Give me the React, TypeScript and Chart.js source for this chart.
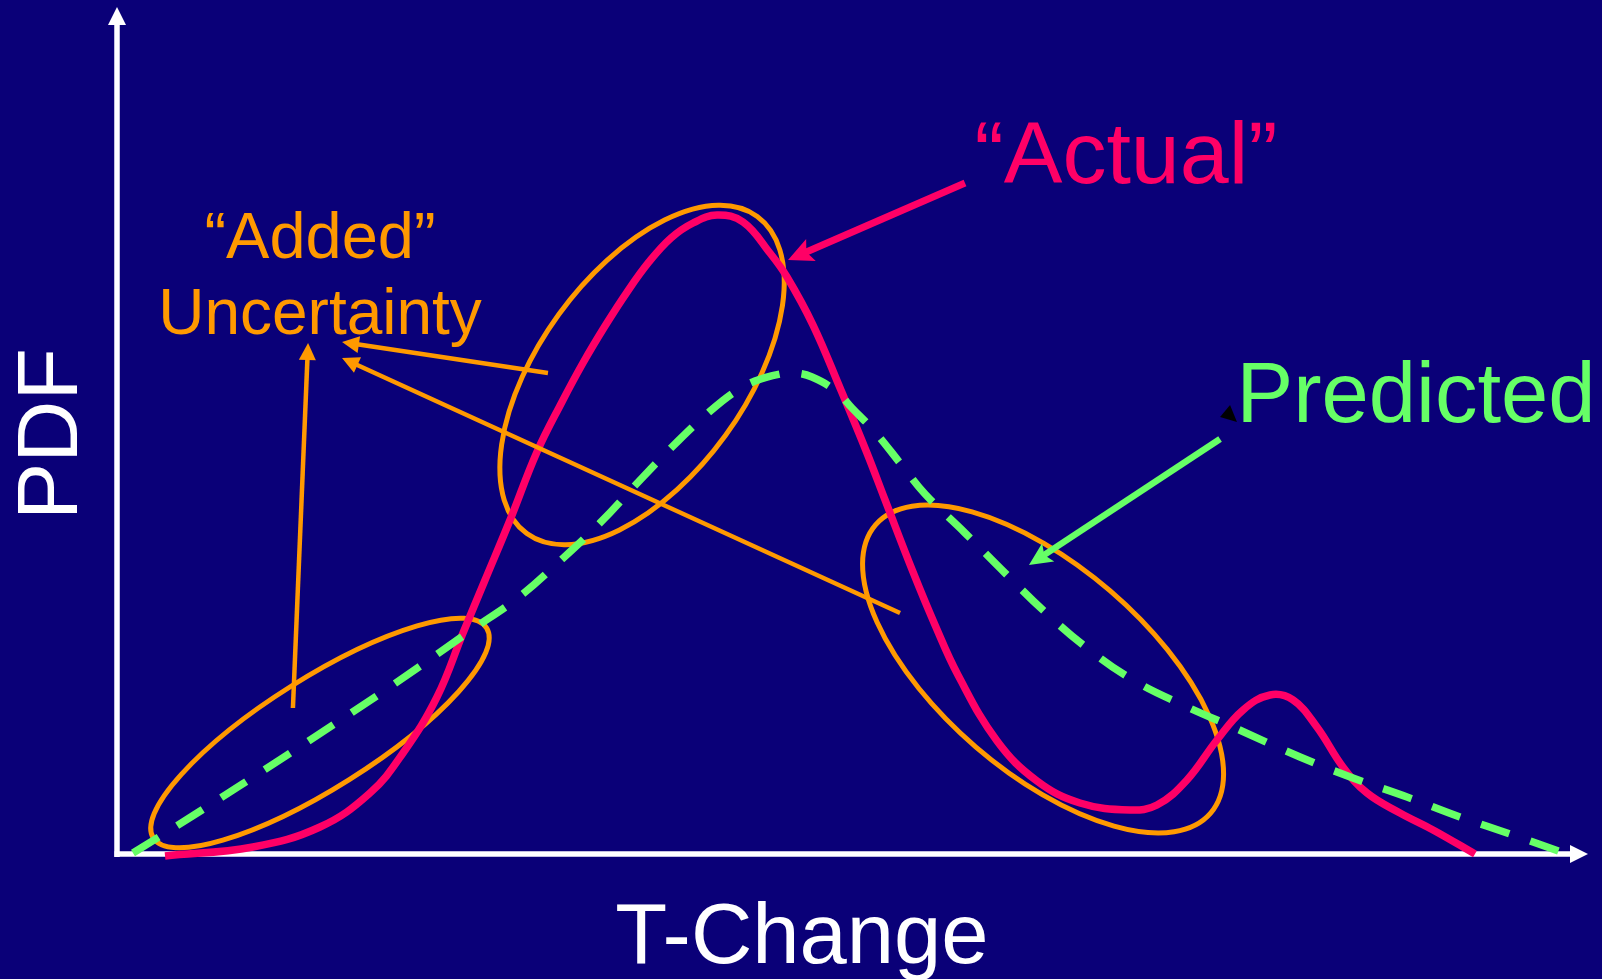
import React, { useEffect, useRef } from "react";
import { Chart, registerables } from "chart.js";

Chart.register(...registerables);

// ---- Data (T-Change on x, PDF on y, arbitrary units 0..100) ----
const actualT = [3.2, 9.18, 13.74, 17.14, 19.39, 21.7, 23.47, 24.97, 26.67, 28.5, 30.2, 31.63, 33.13, 34.63, 36.12, 37.62, 39.12, 40.75, 42.52, 44.35, 45.51, 47.28, 49.12, 50.95, 52.18, 54.08, 55.58, 57.14, 59.8, 62.52, 65.44, 68.84, 70.68, 72.72, 74.76, 76.53, 78.37, 79.93, 81.56, 83.33, 84.97, 87.21, 89.46, 92.31];
const actualPDF = [-0.35, 0.71, 3.07, 7.09, 11.82, 18.44, 26.0, 32.27, 39.36, 47.4, 53.31, 57.92, 62.29, 66.31, 69.86, 72.7, 74.47, 75.41, 74.59, 70.92, 68.09, 62.41, 54.96, 47.28, 41.73, 33.22, 26.95, 21.04, 13.24, 8.51, 5.91, 5.08, 5.67, 8.63, 13.36, 16.9, 18.68, 18.09, 14.89, 10.17, 7.09, 4.73, 2.72, -0.12];

const predictedT = [1.02, 5.17, 11.5, 17.89, 24.15, 27.28, 30.07, 32.79, 35.65, 38.1, 40.14, 41.84, 43.33, 45.03, 46.05, 47.21, 48.84, 49.93, 51.5, 53.2, 54.9, 57.62, 60.34, 63.06, 65.92, 69.05, 72.45, 75.99, 80.41, 84.01, 87.69, 91.29, 94.9, 98.78];
const predictedPDF = [0, 4.49, 11.58, 18.91, 26.48, 30.26, 34.52, 39.01, 44.33, 48.7, 52.01, 54.37, 55.79, 56.62, 56.74, 56.26, 54.61, 52.6, 49.76, 46.1, 42.43, 37.83, 33.1, 28.49, 24.23, 20.45, 17.49, 14.78, 11.35, 8.87, 6.62, 4.26, 2.13, -0.24];

// "Added uncertainty" regions: centres in data units
const regionT = [13.74, 35.65, 62.93];
const regionPDF = [14.18, 56.5, 21.75];

// Text labels
const xTitle = "T-Change";
const yTitle = "PDF";
const actualLabel = "\u201CActual\u201D";
const predictedLabel = "Predicted";
const addedLabel = ["\u201CAdded\u201D", "Uncertainty"];

// ---- Styling / annotation geometry ----
const NAVY = "#0A0078";
const PINK = "#FF0066";
const GREEN = "#66FF66";
const ORANGE = "#FF9900";
const WHITE = "#FFFFFF";
const FONT = "'Liberation Sans', Arial, Helvetica, sans-serif";

// ellipse shapes (pixels, rotation in degrees, canvas convention)
const regionShapes = [
  { a: 197, b: 55, rot: -32.2 },
  { a: 196, b: 103, rot: -54 },
  { a: 221, b: 103, rot: 40.7 },
];

// arrows in data units: [fromT, fromPDF, toT, toPDF]
const orangeArrows = [
  [11.9, 17.14, 12.93, 60.28],
  [29.25, 56.74, 15.24, 60.4],
  [53.2, 28.37, 15.24, 58.51],
];
const actualArrow = [57.62, 79.2, 45.58, 70.09];
const predictedArrow = [74.97, 48.94, 61.97, 34.04];
const blackMark = [
  [75.65, 52.96],
  [74.97, 51.54],
  [76.12, 50.95],
];

function drawArrow(
  ctx: CanvasRenderingContext2D,
  x1: number, y1: number, x2: number, y2: number,
  color: string, lw: number, headLen: number, headHalf: number, notch = 1
) {
  const dx = x2 - x1, dy = y2 - y1;
  const L = Math.hypot(dx, dy);
  const ux = dx / L, uy = dy / L;
  const bx = x2 - ux * headLen, by = y2 - uy * headLen;
  ctx.save();
  ctx.strokeStyle = color;
  ctx.lineWidth = lw;
  ctx.lineCap = "butt";
  ctx.beginPath();
  ctx.moveTo(x1, y1);
  ctx.lineTo(bx + ux * headLen * 0.3, by + uy * headLen * 0.3);
  ctx.stroke();
  ctx.fillStyle = color;
  ctx.beginPath();
  ctx.moveTo(x2, y2);
  ctx.lineTo(bx - uy * headHalf, by + ux * headHalf);
  const nx = x2 - ux * headLen * notch, ny = y2 - uy * headLen * notch;
  ctx.lineTo(nx, ny);
  ctx.lineTo(bx + uy * headHalf, by - ux * headHalf);
  ctx.closePath();
  ctx.fill();
  ctx.restore();
}

const backgroundPlugin = {
  id: "navyBackground",
  beforeDraw(chart: any) {
    const ctx = chart.ctx;
    ctx.save();
    ctx.fillStyle = NAVY;
    ctx.fillRect(0, 0, chart.width, chart.height);
    ctx.restore();
  },
};

const axesPlugin = {
  id: "arrowAxes",
  beforeDatasetsDraw(chart: any) {
    const ctx = chart.ctx;
    const { left, bottom, top, right } = chart.chartArea;
    const ax = left - 1;
    const ay = bottom + 1;
    ctx.save();
    ctx.strokeStyle = WHITE;
    ctx.fillStyle = WHITE;
    ctx.lineWidth = 5.5;
    ctx.lineCap = "butt";
    // y axis
    ctx.beginPath();
    ctx.moveTo(ax, ay + 3);
    ctx.lineTo(ax, top + 18);
    ctx.stroke();
    ctx.beginPath();
    ctx.moveTo(ax, top);
    ctx.lineTo(ax - 9, top + 18);
    ctx.lineTo(ax + 9, top + 18);
    ctx.closePath();
    ctx.fill();
    // x axis
    ctx.beginPath();
    ctx.moveTo(ax - 2.5, ay);
    ctx.lineTo(right - 17, ay);
    ctx.stroke();
    ctx.beginPath();
    ctx.moveTo(right, ay);
    ctx.lineTo(right - 18, ay - 9);
    ctx.lineTo(right - 18, ay + 9);
    ctx.closePath();
    ctx.fill();
    ctx.restore();

    // uncertainty ellipses
    const xs = chart.scales.x, ys = chart.scales.y;
    ctx.save();
    ctx.strokeStyle = ORANGE;
    ctx.lineWidth = 5;
    regionT.forEach((t, i) => {
      const cx = xs.getPixelForValue(t);
      const cy = ys.getPixelForValue(regionPDF[i]);
      const s = regionShapes[i];
      ctx.beginPath();
      ctx.ellipse(cx, cy, s.a, s.b, (s.rot * Math.PI) / 180, 0, Math.PI * 2);
      ctx.stroke();
    });
    ctx.restore();
  },
};

const annotationPlugin = {
  id: "annotations",
  afterDatasetsDraw(chart: any) {
    const ctx = chart.ctx;
    const xs = chart.scales.x, ys = chart.scales.y;
    const P = (t: number, p: number) => [xs.getPixelForValue(t), ys.getPixelForValue(p)];

    orangeArrows.forEach((a) => {
      const [x1, y1] = P(a[0], a[1]);
      const [x2, y2] = P(a[2], a[3]);
      drawArrow(ctx, x1, y1, x2, y2, ORANGE, 4.5, 17, 8.5);
    });
    {
      const [x1, y1] = P(actualArrow[0], actualArrow[1]);
      const [x2, y2] = P(actualArrow[2], actualArrow[3]);
      drawArrow(ctx, x1, y1, x2, y2, PINK, 7, 25, 12, 0.8);
    }
    {
      const [x1, y1] = P(predictedArrow[0], predictedArrow[1]);
      const [x2, y2] = P(predictedArrow[2], predictedArrow[3]);
      drawArrow(ctx, x1, y1, x2, y2, GREEN, 6.5, 23, 11, 0.8);
    }
    ctx.save();
    ctx.fillStyle = "#000000";
    ctx.beginPath();
    blackMark.forEach((m, i) => {
      const [x, y] = P(m[0], m[1]);
      if (i === 0) ctx.moveTo(x, y);
      else ctx.lineTo(x, y);
    });
    ctx.closePath();
    ctx.fill();
    ctx.restore();

    // texts
    ctx.save();
    ctx.textBaseline = "alphabetic";
    ctx.textAlign = "center";
    ctx.fillStyle = PINK;
    ctx.font = `88px ${FONT}`;
    ctx.fillText(actualLabel, 1126, 183);
    ctx.fillStyle = GREEN;
    ctx.font = `85px ${FONT}`;
    ctx.fillText(predictedLabel, 1416, 422);
    ctx.fillStyle = ORANGE;
    ctx.font = `65px ${FONT}`;
    ctx.fillText(addedLabel[0], 320, 258);
    ctx.font = `64px ${FONT}`;
    ctx.fillText(addedLabel[1], 320, 334);
    ctx.fillStyle = WHITE;
    ctx.font = `85px ${FONT}`;
    ctx.fillText(xTitle, 802, 963);
    ctx.translate(77, 434);
    ctx.rotate(-Math.PI / 2);
    ctx.font = `86px ${FONT}`;
    ctx.fillText(yTitle, 0, 0);
    ctx.restore();
  },
};

export default function App() {
  const canvasRef = useRef<HTMLCanvasElement | null>(null);

  useEffect(() => {
    const canvas = canvasRef.current;
    if (!canvas) return;
    const chart = new Chart(canvas, {
      type: "line",
      data: {
        datasets: [
          {
            label: "Predicted",
            data: predictedT.map((t, i) => ({ x: t, y: predictedPDF[i] })),
            borderColor: GREEN,
            borderWidth: 7.5,
            borderDash: [30, 22],
            borderCapStyle: "butt",
            pointRadius: 0,
            fill: false,
            tension: 0.4,
            clip: false,
            order: 0,
          },
          {
            label: "Actual",
            data: actualT.map((t, i) => ({ x: t, y: actualPDF[i] })),
            borderColor: PINK,
            borderWidth: 7.5,
            borderCapStyle: "butt",
            pointRadius: 0,
            fill: false,
            tension: 0.4,
            clip: false,
            order: 1,
          },
        ],
      },
      options: {
        responsive: false,
        animation: false,
        devicePixelRatio: 1,
        layout: { padding: { left: 118, right: 14, top: 7, bottom: 126 } },
        scales: {
          x: { type: "linear", min: 0, max: 100, display: false },
          y: { type: "linear", min: 0, max: 100, display: false },
        },
        plugins: {
          legend: { display: false },
          tooltip: { enabled: false },
        },
        events: [],
      },
      plugins: [backgroundPlugin, axesPlugin, annotationPlugin],
    });
    return () => chart.destroy();
  }, []);

  return (
    <div style={{ position: "fixed", left: 0, top: 0, width: 1602, height: 979, background: NAVY }}>
      <canvas ref={canvasRef} width={1602} height={979} style={{ display: "block", width: 1602, height: 979 }} />
    </div>
  );
}
